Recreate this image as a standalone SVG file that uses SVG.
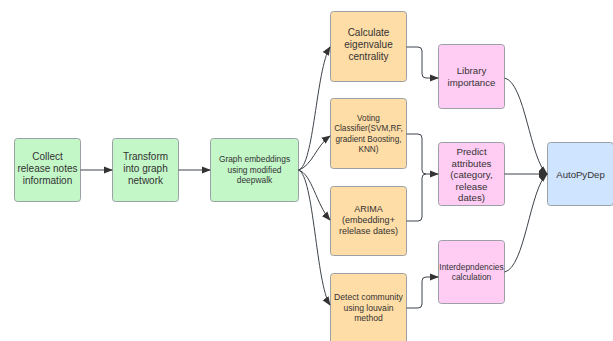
<svg xmlns="http://www.w3.org/2000/svg" width="613" height="341" viewBox="0 0 613 341">
<defs>
<style>
.box{stroke:#9aa0a6;stroke-width:1}
.g{fill:#c3f7c8}.o{fill:#ffdda6}.p{fill:#ffccf4}.b{fill:#cfe4ff}
text{font-family:"Liberation Sans",Arial,sans-serif;fill:#333;text-anchor:middle}
.c{fill:none;stroke:#3d434a;stroke-width:1}
</style>
<marker id="ah" viewBox="0 0 10 10" refX="9" refY="5" markerWidth="9" markerHeight="9" markerUnits="userSpaceOnUse" orient="auto">
<path d="M0,1 L10,5 L0,9 z" fill="#333"/>
</marker>
</defs>
<rect width="613" height="341" fill="#fff"/>
<g id="collect"><rect class="box g" x="14.5" y="138.5" width="66" height="63" rx="3"/>
<text font-size="10"><tspan x="47.5" y="160">Collect</tspan><tspan x="47.5" y="172">release notes</tspan><tspan x="47.5" y="184">information</tspan></text></g>
<g id="transform"><rect class="box g" x="112.5" y="138.5" width="66" height="63" rx="3"/>
<text font-size="10"><tspan x="145.5" y="160">Transform</tspan><tspan x="145.5" y="172">into graph</tspan><tspan x="145.5" y="184">network</tspan></text></g>
<g id="embed"><rect class="box g" x="210.5" y="138.5" width="88" height="63" rx="3"/>
<text font-size="8.4"><tspan x="254.5" y="162">Graph embeddings</tspan><tspan x="254.5" y="172.5">using modified</tspan><tspan x="254.5" y="183">deepwalk</tspan></text></g>
<g id="eigen"><rect class="box o" x="330.5" y="11.5" width="76" height="70" rx="3"/>
<text font-size="10"><tspan x="368.5" y="36">Calculate</tspan><tspan x="368.5" y="48">eigenvalue</tspan><tspan x="368.5" y="60">centrality</tspan></text></g>
<g id="voting"><rect class="box o" x="330.5" y="98.5" width="76" height="70" rx="3"/>
<text font-size="8.2"><tspan x="368.5" y="121">Voting</tspan><tspan x="368.5" y="131.3">Classifier(SVM,RF,</tspan><tspan x="368.5" y="141.6">gradient Boosting,</tspan><tspan x="368.5" y="152">KNN)</tspan></text></g>
<g id="arima"><rect class="box o" x="330.5" y="186.5" width="76" height="69" rx="3"/>
<text font-size="9"><tspan x="368.5" y="212">ARIMA</tspan><tspan x="368.5" y="223">(embedding+</tspan><tspan x="368.5" y="234">relelase dates)</tspan></text></g>
<g id="detect"><rect class="box o" x="330.5" y="273.5" width="76" height="72" rx="3"/>
<text font-size="8.6"><tspan x="368.5" y="300">Detect community</tspan><tspan x="368.5" y="310.5">using louvain</tspan><tspan x="368.5" y="321">method</tspan></text></g>
<g id="library"><rect class="box p" x="438.5" y="44.5" width="66" height="64" rx="3"/>
<text font-size="9.7"><tspan x="471.5" y="74">Library</tspan><tspan x="471.5" y="85.5">importance</tspan></text></g>
<g id="predict"><rect class="box p" x="438.5" y="142.5" width="66" height="63" rx="3"/>
<text font-size="9.7"><tspan x="471.5" y="155">Predict</tspan><tspan x="471.5" y="166.5">attributes</tspan><tspan x="471.5" y="178">(category,</tspan><tspan x="471.5" y="189.5">release</tspan><tspan x="471.5" y="201">dates)</tspan></text></g>
<g id="interdep"><rect class="box p" x="438.5" y="240.5" width="66" height="63" rx="3"/>
<text font-size="8.4"><tspan x="471.5" y="269.5">Interdepndencies</tspan><tspan x="471.5" y="280">calculation</tspan></text></g>
<g id="autopydep"><rect class="box b" x="547.5" y="142.5" width="66" height="63" rx="3"/>
<text font-size="9.6"><tspan x="580.5" y="177.5">AutoPyDep</tspan></text></g>
<g id="connectors">
<path class="c" d="M80.5,170 L112,170" marker-end="url(#ah)"/>
<path class="c" d="M178.5,170 L210,170" marker-end="url(#ah)"/>
<path class="c" d="M298.5,170 C314,166 316,70 330,47" marker-end="url(#ah)"/>
<path class="c" d="M298.5,170 C312,166 316,146 330,136" marker-end="url(#ah)"/>
<path class="c" d="M298.5,170 C312,174 316,204 330,220" marker-end="url(#ah)"/>
<path class="c" d="M298.5,170 C314,176 316,284 330,305" marker-end="url(#ah)"/>
<path class="c" d="M406.5,47 L418,47 Q422,47 422,51 L422,74 Q422,78 426,78 L438,78" marker-end="url(#ah)"/>
<path class="c" d="M406.5,134 L418,134 Q422,134 422,138 L422,170 Q422,174 426,174 L438,174" marker-end="url(#ah)"/>
<path class="c" d="M406.5,221 L418,221 Q422,221 422,217 L422,178 Q422,174 426,174"/>
<path class="c" d="M406.5,308 L418,308 Q422,308 422,304 L422,281 Q422,277 426,277 L438,277" marker-end="url(#ah)"/>
<path class="c" d="M504.5,78 C525,82 530,160 547,174" marker-end="url(#ah)"/>
<path class="c" d="M504.5,174 L547,174" marker-end="url(#ah)"/>
<path class="c" d="M504.5,272 C525,268 530,188 547,174" marker-end="url(#ah)"/>
</g>
</svg>
